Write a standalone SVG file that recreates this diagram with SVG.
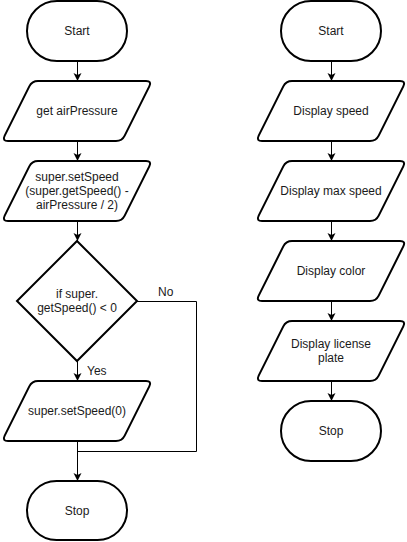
<svg xmlns="http://www.w3.org/2000/svg" width="407" height="542" viewBox="0 0 407 542">
<style>
.shape{fill:#fff;stroke:#000;stroke-width:2}
.conn{fill:none;stroke:#000;stroke-width:1}
.t{font-family:"Liberation Sans",Arial,sans-serif;font-size:12px;fill:#1a1a1a;text-anchor:middle}
.lbl{font-family:"Liberation Sans",Arial,sans-serif;font-size:12px;fill:#1a1a1a}
</style>
<defs>
<path id="para" d="M36,0 L144,0 Q150,0 147.3,5.4 L122.7,54.6 Q120,60 114,60 L6,60 Q0,60 2.7,54.6 L27.3,5.4 Q30,0 36,0 Z"/>
<marker id="arr" markerUnits="userSpaceOnUse" markerWidth="10" markerHeight="10" refX="8" refY="4" orient="auto">
<path d="M0,0 L8,4 L0,8 L2,4 Z" fill="#000"/>
</marker>
</defs>
<g id="connectors">
<path class="conn" d="M77.5,61 V81" marker-end="url(#arr)"/>
<path class="conn" d="M77.5,141 V161" marker-end="url(#arr)"/>
<path class="conn" d="M77.5,221 V241" marker-end="url(#arr)"/>
<path class="conn" d="M77.5,361 V381" marker-end="url(#arr)"/>
<path class="conn" d="M77.5,441 V481" marker-end="url(#arr)"/>
<path class="conn" d="M137,301.5 H196.5 V451.5 H77.5"/>
<path class="conn" d="M331.5,61 V81" marker-end="url(#arr)"/>
<path class="conn" d="M331.5,141 V161" marker-end="url(#arr)"/>
<path class="conn" d="M331.5,221 V241" marker-end="url(#arr)"/>
<path class="conn" d="M331.5,301 V321" marker-end="url(#arr)"/>
<path class="conn" d="M331.5,381 V401" marker-end="url(#arr)"/>
<text class="lbl" x="158" y="296">No</text>
<text class="lbl" x="87" y="375">Yes</text>
</g>
<g id="start1"><rect class="shape" x="27" y="1" width="100" height="60" rx="30" ry="30"/><text class="t" x="77" y="35">Start</text></g>
<g id="getAir"><use href="#para" class="shape" transform="translate(2,81)"/><text class="t" x="77" y="115">get airPressure</text></g>
<g id="setSpeed1"><use href="#para" class="shape" transform="translate(2,161)"/><text class="t" x="77" y="181">super.setSpeed</text><text class="t" x="77" y="195">(super.getSpeed() -</text><text class="t" x="77" y="209">airPressure / 2)</text></g>
<g id="decision"><path class="shape" d="M77,241 L137,301 L77,361 L17,301 Z"/><text class="t" x="77" y="298">if super.</text><text class="t" x="77" y="312">getSpeed() &lt; 0</text></g>
<g id="setSpeed0"><use href="#para" class="shape" transform="translate(2,381)"/><text class="t" x="77" y="415">super.setSpeed(0)</text></g>
<g id="stop1"><rect class="shape" x="27" y="481" width="100" height="59" rx="29.5" ry="29.5"/><text class="t" x="77" y="515">Stop</text></g>
<g id="start2"><rect class="shape" x="281" y="1" width="100" height="60" rx="30" ry="30"/><text class="t" x="331" y="35">Start</text></g>
<g id="dispSpeed"><use href="#para" class="shape" transform="translate(256,81)"/><text class="t" x="331" y="115">Display speed</text></g>
<g id="dispMax"><use href="#para" class="shape" transform="translate(256,161)"/><text class="t" x="331" y="195">Display max speed</text></g>
<g id="dispColor"><use href="#para" class="shape" transform="translate(256,241)"/><text class="t" x="331" y="275">Display color</text></g>
<g id="dispPlate"><use href="#para" class="shape" transform="translate(256,321)"/><text class="t" x="331" y="348">Display license</text><text class="t" x="331" y="362">plate</text></g>
<g id="stop2"><rect class="shape" x="281" y="401" width="100" height="60" rx="30" ry="30"/><text class="t" x="331" y="435">Stop</text></g>
</svg>
